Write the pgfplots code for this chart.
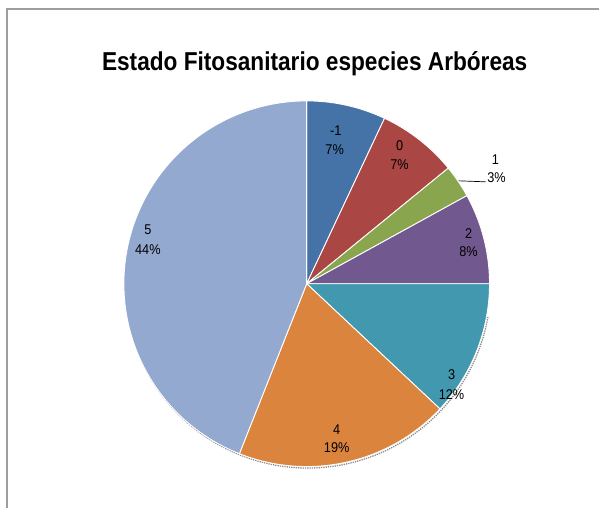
\documentclass[border=0pt]{standalone}
\usepackage{pgfplots}
\pgfplotsset{compat=1.18}
\usepackage{fontspec}
\setmainfont{Liberation Sans}
\newfontfamily\arial{Liberation Sans}

\definecolor{cM}{HTML}{4572A7}
\definecolor{cZ}{HTML}{AA4643}
\definecolor{cA}{HTML}{89A54E}
\definecolor{cB}{HTML}{71588F}
\definecolor{cC}{HTML}{4198AF}
\definecolor{cD}{HTML}{DB843D}
\definecolor{cE}{HTML}{93A9CF}

% slice values (percent), clockwise from the top: -1,0,1,2,3,4,5
\def\vM{7.0}
\def\vZ{7.1}
\def\vA{2.9}
\def\vB{8.0}
\def\vC{12.0}
\def\vD{19.0}
\def\vE{44.0}

\begin{document}
\begin{tikzpicture}
\pgfmathsetmacro\aM{0}
\pgfmathsetmacro\aZ{\aM+3.6*\vM}
\pgfmathsetmacro\aA{\aZ+3.6*\vZ}
\pgfmathsetmacro\aB{\aA+3.6*\vA}
\pgfmathsetmacro\aC{\aB+3.6*\vB}
\pgfmathsetmacro\aD{\aC+3.6*\vC}
\pgfmathsetmacro\aE{\aD+3.6*\vD}
\pgfmathsetmacro\aF{\aE+3.6*\vE}
\def\cx{307}
\def\cy{225}
\def\R{183}
\begin{axis}[
  scale only axis, width=600bp, height=509bp,
  xmin=0, xmax=600, ymin=0, ymax=509,
  hide axis, clip=false,
]
\path (axis cs:0,0) rectangle (axis cs:600,509);
% frame
\draw[color=black!38, line width=1.2bp] (axis cs:7,0) -- (axis cs:7,500) -- (axis cs:600,500);
% shadow
\addplot[domain=100:320, samples=120, draw=black!45, line width=1.3bp, densely dotted, smooth]
  ({\cx+1.2+\R*sin(x)},{\cy-1.5+\R*cos(x)});
% slices
\addplot[domain=\aM:\aZ, samples=40, fill=cM, draw=white, line width=0.9bp]
  ({\cx+\R*sin(x)},{\cy+\R*cos(x)}) -- (axis cs:\cx,\cy) -- cycle;
\addplot[domain=\aZ:\aA, samples=40, fill=cZ, draw=white, line width=0.9bp]
  ({\cx+\R*sin(x)},{\cy+\R*cos(x)}) -- (axis cs:\cx,\cy) -- cycle;
\addplot[domain=\aA:\aB, samples=20, fill=cA, draw=white, line width=0.9bp]
  ({\cx+\R*sin(x)},{\cy+\R*cos(x)}) -- (axis cs:\cx,\cy) -- cycle;
\addplot[domain=\aB:\aC, samples=40, fill=cB, draw=white, line width=0.9bp]
  ({\cx+\R*sin(x)},{\cy+\R*cos(x)}) -- (axis cs:\cx,\cy) -- cycle;
\addplot[domain=\aC:\aD, samples=40, fill=cC, draw=white, line width=0.9bp]
  ({\cx+\R*sin(x)},{\cy+\R*cos(x)}) -- (axis cs:\cx,\cy) -- cycle;
\addplot[domain=\aD:\aE, samples=60, fill=cD, draw=white, line width=0.9bp]
  ({\cx+\R*sin(x)},{\cy+\R*cos(x)}) -- (axis cs:\cx,\cy) -- cycle;
\addplot[domain=\aE:\aF, samples=120, fill=cE, draw=white, line width=0.9bp]
  ({\cx+\R*sin(x)},{\cy+\R*cos(x)}) -- (axis cs:\cx,\cy) -- cycle;
% leader line for slice 1
\addplot[black, line width=0.7bp] coordinates {(459,328) (486,327)};
% title
\node[anchor=base, xscale=0.875, inner sep=0pt, font=\arial\fontsize{26}{30}\selectfont\bfseries]
  at (axis cs:315,438) {Estado Fitosanitario especies Arbóreas};
% labels
\tikzset{lab/.style={anchor=base, inner sep=0pt, xscale=0.9, font=\arial\fontsize{14.2}{16}\selectfont}}
\node[lab] at (axis cs:336,373) {-1};
\node[lab] at (axis cs:335,354) {7\%};
\node[lab] at (axis cs:400,358) {0};
\node[lab] at (axis cs:400,339) {7\%};
\node[lab] at (axis cs:496,344) {1};
\node[lab] at (axis cs:497,326) {3\%};
\node[lab] at (axis cs:469,270) {2};
\node[lab] at (axis cs:469,252) {8\%};
\node[lab] at (axis cs:452,129) {3};
\node[lab] at (axis cs:452,109) {12\%};
\node[lab] at (axis cs:337,74) {4};
\node[lab] at (axis cs:337,56) {19\%};
\node[lab] at (axis cs:148,274) {5};
\node[lab] at (axis cs:148,254) {44\%};
\end{axis}
\end{tikzpicture}
\end{document}
